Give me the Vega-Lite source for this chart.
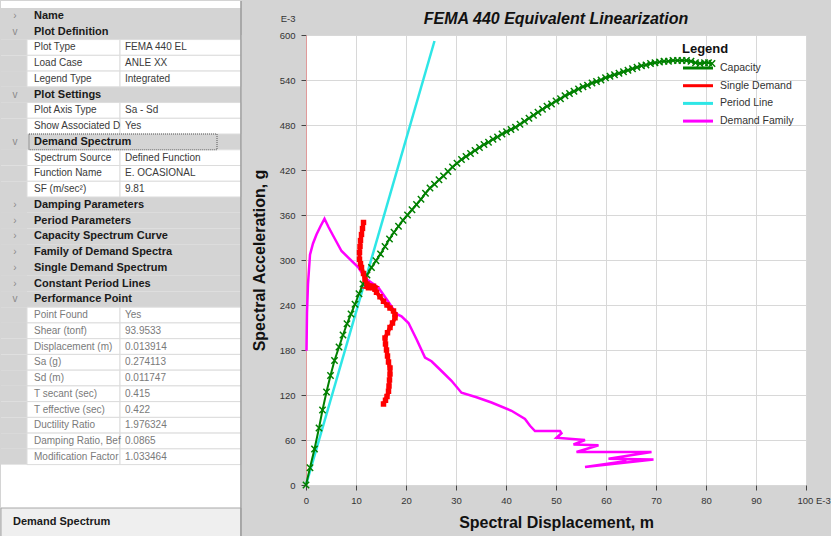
{
  "$schema": "https://vega.github.io/schema/vega-lite/v6.json",
  "background": "#d4d4d4",
  "padding": 0,
  "spacing": 9,
  "config": {"view": {"stroke": null}, "font": "Liberation Sans"},
  "resolve": {"legend": {"color": "independent"}},
  "datasets": {
    "props": [
      {"row": 0, "kind": "cat", "icon": "›", "label": "Name", "value": ""},
      {"row": 1, "kind": "cat", "icon": "v", "label": "Plot Definition", "value": ""},
      {"row": 2, "kind": "prop", "icon": "", "label": "Plot Type", "value": "FEMA 440 EL"},
      {"row": 3, "kind": "prop", "icon": "", "label": "Load Case", "value": "ANLE XX"},
      {"row": 4, "kind": "prop", "icon": "", "label": "Legend Type", "value": "Integrated"},
      {"row": 5, "kind": "cat", "icon": "v", "label": "Plot Settings", "value": ""},
      {"row": 6, "kind": "prop", "icon": "", "label": "Plot Axis Type", "value": "Sa - Sd"},
      {"row": 7, "kind": "prop", "icon": "", "label": "Show Associated D", "value": "Yes"},
      {"row": 8, "kind": "cat", "icon": "v", "label": "Demand Spectrum", "value": ""},
      {"row": 9, "kind": "prop", "icon": "", "label": "Spectrum Source", "value": "Defined Function"},
      {"row": 10, "kind": "prop", "icon": "", "label": "Function Name", "value": "E. OCASIONAL"},
      {"row": 11, "kind": "prop", "icon": "", "label": "SF (m/sec²)", "value": "9.81"},
      {"row": 12, "kind": "cat", "icon": "›", "label": "Damping Parameters", "value": ""},
      {"row": 13, "kind": "cat", "icon": "›", "label": "Period Parameters", "value": ""},
      {"row": 14, "kind": "cat", "icon": "›", "label": "Capacity Spectrum Curve", "value": ""},
      {"row": 15, "kind": "cat", "icon": "›", "label": "Family of Demand Spectra", "value": ""},
      {"row": 16, "kind": "cat", "icon": "›", "label": "Single Demand Spectrum", "value": ""},
      {"row": 17, "kind": "cat", "icon": "›", "label": "Constant Period Lines", "value": ""},
      {"row": 18, "kind": "cat", "icon": "v", "label": "Performance Point", "value": ""},
      {"row": 19, "kind": "ro", "icon": "", "label": "Point Found", "value": "Yes"},
      {"row": 20, "kind": "ro", "icon": "", "label": "Shear (tonf)", "value": "93.9533"},
      {"row": 21, "kind": "ro", "icon": "", "label": "Displacement (m)", "value": "0.013914"},
      {"row": 22, "kind": "ro", "icon": "", "label": "Sa (g)", "value": "0.274113"},
      {"row": 23, "kind": "ro", "icon": "", "label": "Sd (m)", "value": "0.011747"},
      {"row": 24, "kind": "ro", "icon": "", "label": "T secant (sec)", "value": "0.415"},
      {"row": 25, "kind": "ro", "icon": "", "label": "T effective (sec)", "value": "0.422"},
      {"row": 26, "kind": "ro", "icon": "", "label": "Ductility Ratio", "value": "1.976324"},
      {"row": 27, "kind": "ro", "icon": "", "label": "Damping Ratio, Bef", "value": "0.0865"},
      {"row": 28, "kind": "ro", "icon": "", "label": "Modification Factor", "value": "1.033464"}
    ],
    "period": [
      {"series": "Period Line", "x": 0, "y": 0},
      {"series": "Period Line", "x": 25.7, "y": 592}
    ],
    "cap": [
      {"series":"Capacity","x":0,"y":0},{"series":"Capacity","x":0.8,"y":23},{"series":"Capacity","x":1.7,"y":48},
      {"series":"Capacity","x":2.6,"y":76},{"series":"Capacity","x":3.3,"y":100},{"series":"Capacity","x":4.1,"y":124},
      {"series":"Capacity","x":4.9,"y":146},{"series":"Capacity","x":5.7,"y":166},{"series":"Capacity","x":6.6,"y":184},
      {"series":"Capacity","x":7.4,"y":200},{"series":"Capacity","x":8.2,"y":215},{"series":"Capacity","x":9.0,"y":228},
      {"series":"Capacity","x":9.8,"y":241},{"series":"Capacity","x":10.6,"y":255},{"series":"Capacity","x":11.4,"y":268},
      {"series":"Capacity","x":12.2,"y":280},{"series":"Capacity","x":13.1,"y":290},{"series":"Capacity","x":14.0,"y":299},
      {"series":"Capacity","x":14.9,"y":308},{"series":"Capacity","x":15.8,"y":318},{"series":"Capacity","x":16.7,"y":328},
      {"series":"Capacity","x":17.6,"y":337},{"series":"Capacity","x":18.5,"y":345},{"series":"Capacity","x":19.4,"y":353},
      {"series":"Capacity","x":20.3,"y":360},{"series":"Capacity","x":21.2,"y":367},{"series":"Capacity","x":22.1,"y":374},
      {"series":"Capacity","x":23.0,"y":381},{"series":"Capacity","x":23.9,"y":389},{"series":"Capacity","x":24.8,"y":396},
      {"series":"Capacity","x":25.7,"y":401},{"series":"Capacity","x":26.6,"y":407},{"series":"Capacity","x":27.5,"y":412},
      {"series":"Capacity","x":28.4,"y":418},{"series":"Capacity","x":29.3,"y":424},{"series":"Capacity","x":30.2,"y":429},
      {"series":"Capacity","x":31.1,"y":434},{"series":"Capacity","x":32.0,"y":438},{"series":"Capacity","x":32.9,"y":442},
      {"series":"Capacity","x":33.8,"y":446},{"series":"Capacity","x":34.7,"y":450},{"series":"Capacity","x":35.6,"y":454},
      {"series":"Capacity","x":36.5,"y":457},{"series":"Capacity","x":37.4,"y":461},{"series":"Capacity","x":38.3,"y":464},
      {"series":"Capacity","x":39.2,"y":468},{"series":"Capacity","x":40.1,"y":471},{"series":"Capacity","x":41.0,"y":474},
      {"series":"Capacity","x":41.9,"y":477},{"series":"Capacity","x":42.8,"y":481},{"series":"Capacity","x":43.7,"y":485},
      {"series":"Capacity","x":44.6,"y":489},{"series":"Capacity","x":45.5,"y":493},{"series":"Capacity","x":46.4,"y":497},
      {"series":"Capacity","x":47.3,"y":501},{"series":"Capacity","x":48.2,"y":505},{"series":"Capacity","x":49.1,"y":508},
      {"series":"Capacity","x":50.0,"y":512},{"series":"Capacity","x":50.9,"y":515},{"series":"Capacity","x":51.8,"y":519},
      {"series":"Capacity","x":52.7,"y":522},{"series":"Capacity","x":53.6,"y":525},{"series":"Capacity","x":54.5,"y":528},
      {"series":"Capacity","x":55.4,"y":531},{"series":"Capacity","x":56.3,"y":533},{"series":"Capacity","x":57.2,"y":536},
      {"series":"Capacity","x":58.1,"y":538},{"series":"Capacity","x":59.0,"y":540},{"series":"Capacity","x":59.9,"y":543},
      {"series":"Capacity","x":60.8,"y":545},{"series":"Capacity","x":61.7,"y":547},{"series":"Capacity","x":62.6,"y":549},
      {"series":"Capacity","x":63.5,"y":551},{"series":"Capacity","x":64.4,"y":553},{"series":"Capacity","x":65.3,"y":555},
      {"series":"Capacity","x":66.2,"y":557},{"series":"Capacity","x":67.1,"y":559},{"series":"Capacity","x":68.0,"y":560},
      {"series":"Capacity","x":68.9,"y":562},{"series":"Capacity","x":69.8,"y":563},{"series":"Capacity","x":70.7,"y":564},
      {"series":"Capacity","x":71.6,"y":565},{"series":"Capacity","x":72.5,"y":565},{"series":"Capacity","x":73.4,"y":566},
      {"series":"Capacity","x":74.3,"y":566},{"series":"Capacity","x":75.2,"y":566},{"series":"Capacity","x":76.1,"y":566},
      {"series":"Capacity","x":77.0,"y":565},{"series":"Capacity","x":77.9,"y":563},{"series":"Capacity","x":78.8,"y":562},
      {"series":"Capacity","x":79.7,"y":563},{"series":"Capacity","x":80.5,"y":563},{"series":"Capacity","x":81.2,"y":562}
    ],
    "single": [
      {"series":"Single Demand","x":11.5,"y":350},{"series":"Single Demand","x":11.3,"y":342},{"series":"Single Demand","x":11.1,"y":334},
      {"series":"Single Demand","x":10.9,"y":326},{"series":"Single Demand","x":10.8,"y":318},{"series":"Single Demand","x":10.7,"y":310},
      {"series":"Single Demand","x":10.7,"y":301},{"series":"Single Demand","x":10.9,"y":295},{"series":"Single Demand","x":11.1,"y":290},
      {"series":"Single Demand","x":11.5,"y":282},{"series":"Single Demand","x":11.8,"y":274},{"series":"Single Demand","x":12.2,"y":268},
      {"series":"Single Demand","x":12.5,"y":263},{"series":"Single Demand","x":13.5,"y":265},{"series":"Single Demand","x":13.8,"y":261},
      {"series":"Single Demand","x":14.1,"y":257},{"series":"Single Demand","x":14.8,"y":251},{"series":"Single Demand","x":15.5,"y":245},
      {"series":"Single Demand","x":16.2,"y":240},{"series":"Single Demand","x":16.8,"y":236},{"series":"Single Demand","x":17.5,"y":232},
      {"series":"Single Demand","x":17.8,"y":227},{"series":"Single Demand","x":17.8,"y":223},{"series":"Single Demand","x":17.3,"y":216},
      {"series":"Single Demand","x":16.8,"y":210},{"series":"Single Demand","x":16.3,"y":203},{"series":"Single Demand","x":15.8,"y":196},
      {"series":"Single Demand","x":15.9,"y":188},{"series":"Single Demand","x":16.1,"y":180},{"series":"Single Demand","x":16.3,"y":172},
      {"series":"Single Demand","x":16.5,"y":164},{"series":"Single Demand","x":16.8,"y":156},{"series":"Single Demand","x":16.8,"y":148},
      {"series":"Single Demand","x":16.7,"y":140},{"series":"Single Demand","x":16.6,"y":132},{"series":"Single Demand","x":16.5,"y":125},
      {"series":"Single Demand","x":16.2,"y":118},{"series":"Single Demand","x":15.9,"y":113},{"series":"Single Demand","x":15.5,"y":108}
    ],
    "family": [
      {"series":"Demand Family","i":0,"x":0.1,"y":179},{"series":"Demand Family","i":1,"x":0.2,"y":230},{"series":"Demand Family","i":2,"x":0.4,"y":268},
      {"series":"Demand Family","i":3,"x":0.8,"y":307},{"series":"Demand Family","i":4,"x":1.4,"y":322},{"series":"Demand Family","i":5,"x":2.1,"y":334},
      {"series":"Demand Family","i":6,"x":2.9,"y":345},{"series":"Demand Family","i":7,"x":3.7,"y":355},{"series":"Demand Family","i":8,"x":4.5,"y":344},
      {"series":"Demand Family","i":9,"x":5.3,"y":334},{"series":"Demand Family","i":10,"x":7.1,"y":312},{"series":"Demand Family","i":11,"x":10.5,"y":290},
      {"series":"Demand Family","i":12,"x":11.8,"y":276},{"series":"Demand Family","i":13,"x":14.5,"y":263},{"series":"Demand Family","i":14,"x":16.3,"y":246},
      {"series":"Demand Family","i":15,"x":18.1,"y":228},{"series":"Demand Family","i":16,"x":19.1,"y":225},{"series":"Demand Family","i":17,"x":20.5,"y":216},
      {"series":"Demand Family","i":18,"x":22.2,"y":193},{"series":"Demand Family","i":19,"x":23.8,"y":170},{"series":"Demand Family","i":20,"x":25.1,"y":165},
      {"series":"Demand Family","i":21,"x":27.1,"y":152},{"series":"Demand Family","i":22,"x":29.1,"y":139},{"series":"Demand Family","i":23,"x":31.1,"y":123},
      {"series":"Demand Family","i":24,"x":34.1,"y":117},{"series":"Demand Family","i":25,"x":37.1,"y":110},{"series":"Demand Family","i":26,"x":41.1,"y":99},
      {"series":"Demand Family","i":27,"x":43.8,"y":88},{"series":"Demand Family","i":28,"x":44.8,"y":79},{"series":"Demand Family","i":29,"x":45.8,"y":72},
      {"series":"Demand Family","i":30,"x":50.8,"y":72},{"series":"Demand Family","i":31,"x":51.1,"y":69},{"series":"Demand Family","i":32,"x":50.1,"y":63},
      {"series":"Demand Family","i":33,"x":55.8,"y":60},{"series":"Demand Family","i":34,"x":53.5,"y":54},{"series":"Demand Family","i":35,"x":58.5,"y":53},
      {"series":"Demand Family","i":36,"x":54.1,"y":44},{"series":"Demand Family","i":37,"x":69.1,"y":44},{"series":"Demand Family","i":38,"x":60.5,"y":35},
      {"series":"Demand Family","i":39,"x":69.5,"y":34},{"series":"Demand Family","i":40,"x":55.8,"y":24},{"series":"Demand Family","i":41,"x":64.1,"y":32}
    ]
  },
  "hconcat": [
    {
      "width": 241,
      "height": 502,
      "view": {"fill": "white", "stroke": null},
      "data": {"name": "props"},
      "encoding": {
        "y": {
          "field": "row", "type": "ordinal", "axis": null,
          "scale": {"domain": [0,1,2,3,4,5,6,7,8,9,10,11,12,13,14,15,16,17,18,19,20,21,22,23,24,25,26,27,28],
                    "range": [-26.9, 429.6], "paddingInner": 0, "paddingOuter": 0, "round": false}
        }
      },
      "layer": [
        {"data": {"values": [{"caption": ""}]}, "mark": {"type": "rect", "fill": "white"}, "encoding": {"x": {"value": 0}, "x2": {"value": 240}, "y": {"value": -34}, "y2": {"value": -26}}},
        {"mark": {"type": "rect", "fill": "#d4d4d4"}, "encoding": {"x": {"value": 0}, "x2": {"value": 26}}},
        {"transform": [{"filter": "datum.kind == 'cat'"}], "mark": {"type": "rect", "fill": "#d4d4d4"}, "encoding": {"x": {"value": 0}, "x2": {"value": 240}}},
        {"transform": [{"filter": "datum.kind != 'cat'"}], "mark": {"type": "rect", "fill": "white", "stroke": "#dcdcdc", "strokeWidth": 1}, "encoding": {"x": {"value": 26}, "x2": {"value": 119}}},
        {"transform": [{"filter": "datum.kind != 'cat'"}], "mark": {"type": "rect", "fill": "white", "stroke": "#dcdcdc", "strokeWidth": 1}, "encoding": {"x": {"value": 119}, "x2": {"value": 240}}},
        {"transform": [{"filter": "datum.row == 8"}], "mark": {"type": "rect", "fill": null, "stroke": "#555555", "strokeWidth": 1, "strokeDash": [1, 1]}, "encoding": {"x": {"value": 28}, "x2": {"value": 216}}},
        {"mark": {"type": "text", "align": "center", "baseline": "middle", "fontSize": 10, "color": "#8a8a8a"}, "encoding": {"x": {"value": 14}, "text": {"field": "icon"}}},
        {"transform": [{"filter": "datum.kind == 'cat'"}], "mark": {"type": "text", "align": "left", "baseline": "middle", "fontSize": 11, "fontWeight": "bold", "color": "#1a1a1a"}, "encoding": {"x": {"value": 33}, "text": {"field": "label"}}},
        {"transform": [{"filter": "datum.kind == 'prop'"}], "mark": {"type": "text", "align": "left", "baseline": "middle", "fontSize": 10, "color": "#3a3a3a"}, "encoding": {"x": {"value": 33}, "text": {"field": "label"}}},
        {"transform": [{"filter": "datum.kind == 'prop'"}], "mark": {"type": "text", "align": "left", "baseline": "middle", "fontSize": 10, "color": "#3a3a3a"}, "encoding": {"x": {"value": 124}, "text": {"field": "value"}}},
        {"transform": [{"filter": "datum.kind == 'ro'"}], "mark": {"type": "text", "align": "left", "baseline": "middle", "fontSize": 10, "color": "#7a7a7a"}, "encoding": {"x": {"value": 33}, "text": {"field": "label"}}},
        {"transform": [{"filter": "datum.kind == 'ro'"}], "mark": {"type": "text", "align": "left", "baseline": "middle", "fontSize": 10, "color": "#7a7a7a"}, "encoding": {"x": {"value": 124}, "text": {"field": "value"}}},
        {"data": {"values": [{"caption": "Demand Spectrum"}]}, "mark": {"type": "rect", "fill": "#efefef", "stroke": "#a8a8a8", "strokeWidth": 1}, "encoding": {"x": {"value": 0}, "x2": {"value": 240}, "y": {"value": 473}, "y2": {"value": 506}}},
        {"data": {"values": [{"caption": "Demand Spectrum"}]}, "mark": {"type": "text", "align": "left", "baseline": "middle", "fontSize": 11, "fontWeight": "bold", "color": "#1a1a1a"}, "encoding": {"x": {"value": 12}, "y": {"value": 487}, "text": {"field": "caption"}}},
        {"data": {"values": [{"caption": ""}]}, "mark": {"type": "rule", "color": "#9a9a9a", "strokeWidth": 1.5}, "encoding": {"x": {"value": 240}, "y": {"value": -34}, "y2": {"value": 502}}}
      ]
    },
    {
      "width": 500,
      "height": 450,
      "view": {"fill": "white", "stroke": null},
      "title": {"text": "FEMA 440 Equivalent Linearization", "fontSize": 16, "fontStyle": "italic", "fontWeight": "bold", "color": "#111111", "anchor": "middle", "frame": "group", "baseline": "alphabetic", "offset": -27},
      "encoding": {
        "x": {"field": "x", "type": "quantitative", "scale": {"domain": [0, 100], "nice": false},
              "axis": {"values": [0,10,20,30,40,50,60,70,80,90,100], "title": "Spectral Displacement, m", "titleFontSize": 16, "titleFontWeight": "bold", "titleColor": "#111111", "titlePadding": 10,
                       "labelExpr": "datum.value == 100 ? '100 E-3' : datum.label",
                       "labelAlign": {"condition": {"test": "datum.value == 100", "value": "left"}, "value": "center"},
                       "labelOffset": {"condition": {"test": "datum.value == 100", "value": -9}, "value": 0},
                       "labelFlush": false, "labelFontSize": 9.5, "labelColor": "#333333", "labelPadding": 5, "tickSize": 5, "tickColor": "#444444", "domain": false, "grid": true, "gridColor": "#d8d8d8"}},
        "y": {"field": "y", "type": "quantitative", "scale": {"domain": [0, 600], "nice": false},
              "axis": {"values": [0,60,120,180,240,300,360,420,480,540,600], "title": "Spectral Acceleration, g", "titleFontSize": 16, "titleFontWeight": "bold", "titleColor": "#111111", "titlePadding": 12,
                       "labelExpr": "datum.value == 600 ? ['E-3', '600'] : datum.label",
                       "labelLineHeight": 17,
                       "labelOffset": {"condition": {"test": "datum.value == 600", "value": -17}, "value": 0},
                       "labelFlush": false, "labelFontSize": 9.5, "labelColor": "#333333", "labelPadding": 6, "tickSize": 5, "tickColor": "#444444", "domainColor": "#e09a9a", "grid": true, "gridColor": "#d8d8d8"}}
      },
      "layer": [
        {"data": {"name": "period"}, "mark": {"type": "line", "strokeWidth": 2.5},
         "encoding": {"color": {"field": "series", "type": "nominal",
            "scale": {"domain": ["Capacity", "Single Demand", "Period Line", "Demand Family"], "range": ["#008000", "#ff0000", "#2ee6e6", "#ff00ff"]},
            "legend": {"orient": "none", "legendX": 376, "legendY": 8, "title": "Legend", "titleFontSize": 13, "titleFontWeight": "bold", "titleColor": "#111111", "titlePadding": 3,
                       "labelFontSize": 10.5, "labelColor": "#333333", "symbolType": "M-1.07,0L2.93,0", "symbolSize": 225, "symbolStrokeWidth": 3, "labelOffset": 20, "rowPadding": 2.7}}}},
        {"data": {"name": "cap"}, "mark": {"type": "line", "strokeWidth": 2}, "encoding": {"color": {"field": "series", "type": "nominal"}}},
        {"data": {"name": "cap"}, "mark": {"type": "point", "shape": "M-1,-1L1,1M-1,1L1,-1", "filled": false, "size": 40, "strokeWidth": 1.5, "color": "#008000", "opacity": 1}},
        {"data": {"name": "family"}, "mark": {"type": "line", "strokeWidth": 2.5}, "encoding": {"order": {"field": "i", "type": "quantitative"}, "color": {"field": "series", "type": "nominal"}}},
        {"data": {"name": "single"}, "mark": {"type": "line", "strokeWidth": 4}, "encoding": {"order": {"field": "y", "type": "quantitative", "sort": "descending"}, "color": {"field": "series", "type": "nominal"}}},
        {"data": {"name": "single"}, "mark": {"type": "point", "shape": "square", "filled": true, "size": 30, "color": "#ff0000", "opacity": 1}}
      ]
    }
  ]
}
